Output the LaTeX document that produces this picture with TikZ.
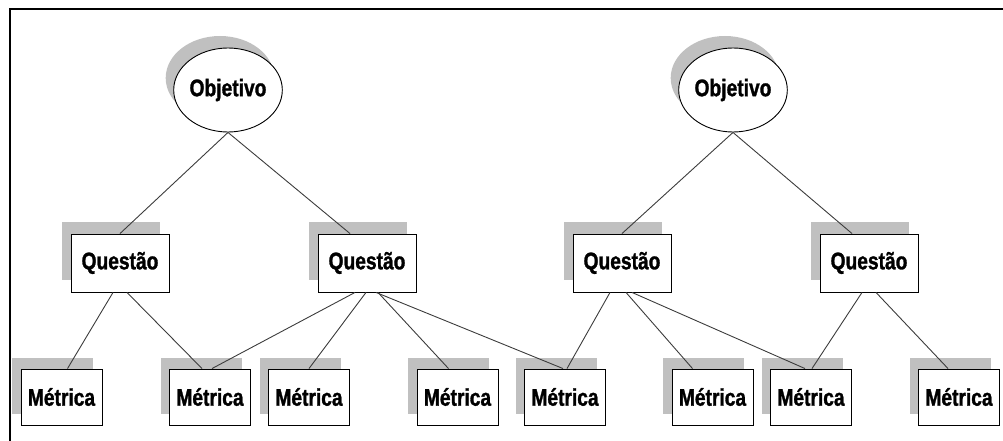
\documentclass[tikz,border=0pt]{standalone}
\usepackage{fontspec}
\usetikzlibrary{shapes.geometric,shadows,calc}
\newfontfamily\lbl[FakeStretch=0.8,FakeBold=1.2]{Liberation Sans}
\definecolor{shadowgray}{RGB}{192,192,192}
\definecolor{linegray}{RGB}{60,60,60}
\tikzset{
  lblfont/.style={font=\lbl\bfseries\fontsize{24}{24}\selectfont},
  obj/.style={ellipse, draw=black, fill=white, line width=0.9pt, minimum width=100pt, minimum height=84pt, inner sep=0pt, lblfont,
    general shadow={fill=shadowgray, shadow xshift=-8pt, shadow yshift=12pt}},
  qbox/.style={rectangle, draw=black, fill=white, line width=0.9pt, minimum width=98pt, minimum height=58pt, inner sep=0pt, lblfont,
    general shadow={fill=shadowgray, shadow xshift=-9pt, shadow yshift=12pt}},
  mbox/.style={rectangle, draw=black, fill=white, line width=0.9pt, minimum width=81pt, minimum height=56pt, inner sep=0pt, lblfont,
    general shadow={fill=shadowgray, shadow xshift=-9pt, shadow yshift=11pt}},
  conn/.style={draw=linegray, line width=0.9pt},
  frame/.style={draw=black, line width=2.5pt}
}
\begin{document}
\begin{tikzpicture}[x=1pt,y=-1pt]
\useasboundingbox (0,0) rectangle (1003,441);
\coordinate (fb) at (10,441);
\coordinate (fc) at (10,9);
\coordinate (fr) at (1003,9);
\draw[frame] (fb) -- (fc) -- (fr);

\node[obj] (o1) at (228,90) {Objetivo};
\node[obj] (o2) at (733,90) {Objetivo};

\node[qbox] (q1) at (120,263) {Questão};
\node[qbox] (q2) at (367,263) {Questão};
\node[qbox] (q3) at (622,263) {Questão};
\node[qbox] (q4) at (869,263) {Questão};

\node[mbox] (m1) at (61.5,397) {Métrica};
\node[mbox] (m2) at (210,397) {Métrica};
\node[mbox] (m3) at (309,397) {Métrica};
\node[mbox] (m4) at (457.5,397) {Métrica};
\node[mbox] (m5) at (565,397) {Métrica};
\node[mbox] (m6) at (712.5,397) {Métrica};
\node[mbox] (m7) at (811,397) {Métrica};
\node[mbox] (m8) at (959,397) {Métrica};

\draw[conn] (o1.south) -- (q1.north);
\draw[conn] (o1.south) -- ($(q2.north)+(-17,0)$);
\draw[conn] (o2.south) -- (q3.north);
\draw[conn] (o2.south) -- ($(q4.north)+(-17,0)$);

\draw[conn] ($(q1.south)+(-7,0)$) -- ($(m1.north)+(6,0)$);
\draw[conn] ($(q1.south)+(7,0)$) -- ($(m2.north)+(-8,0)$);

\draw[conn] ($(q2.south)+(-12,0)$) -- ($(m2.north)+(2,0)$);
\draw[conn] ($(q2.south)+(-1,0)$) -- (m3.north);
\draw[conn] ($(q2.south)+(11,0)$) -- ($(m4.north)+(-9,0)$);
\draw[conn] ($(q2.south)+(9,0)$) -- ($(m5.north)+(-2,0)$);

\draw[conn] ($(q3.south)+(-12,0)$) -- ($(m5.north)+(2,0)$);
\draw[conn] ($(q3.south)+(4,0)$) -- ($(m6.north)+(-20,0)$);
\draw[conn] ($(q3.south)+(10,0)$) -- ($(m7.north)+(-6,0)$);

\draw[conn] ($(q4.south)+(-7,0)$) -- ($(m7.north)+(1,0)$);
\draw[conn] ($(q4.south)+(7,0)$) -- ($(m8.north)+(-11,0)$);
\end{tikzpicture}
\end{document}
